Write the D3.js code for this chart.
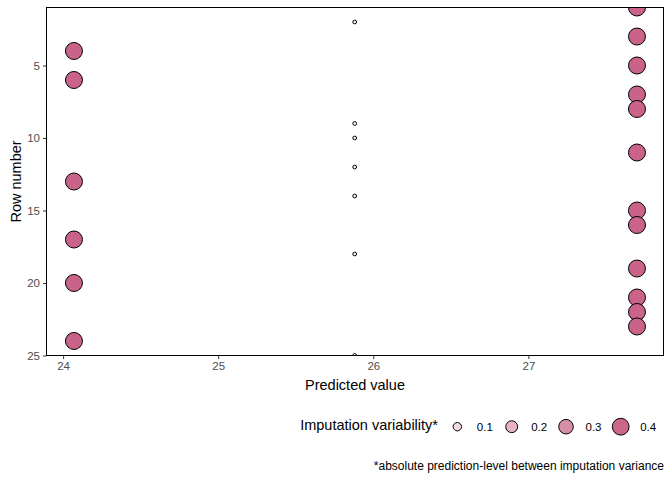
<!DOCTYPE html>
<html><head><meta charset="utf-8">
<script src="https://cdn.jsdelivr.net/npm/d3@7"></script>
<style>body{margin:0;background:#fff;} text{font-family:"Liberation Sans",Arial,sans-serif;}</style>
</head><body>
<script>
const rows = d3.range(1, 26);
const predicted = [27.70,25.88,27.70,24.07,27.70,24.07,27.70,27.70,25.88,25.88,27.70,25.88,24.07,25.88,27.70,27.70,24.07,25.88,27.70,24.07,27.70,27.70,27.70,24.07,25.88];
const variability = [0.41,0.02,0.41,0.41,0.41,0.41,0.41,0.41,0.02,0.02,0.41,0.02,0.41,0.02,0.41,0.41,0.41,0.02,0.41,0.41,0.41,0.41,0.41,0.41,0.02];
const xTicks = [24, 25, 26, 27];
const yTicks = [5, 10, 15, 20, 25];
const legendValues = [0.1, 0.2, 0.3, 0.4];

const W = 672, H = 480;
const P = {l: 46.5, t: 7.5, r: 663.5, b: 355.5};
const svg = d3.select("body").append("svg").attr("width", W).attr("height", H);

const x = d3.scaleLinear().domain([23.893, 27.871]).range([P.l, P.r]);
const y = d3.scaleLinear().domain([1, 25]).range([P.t, P.b]);
const rScale = d3.scaleSqrt().domain([0, 0.4]).range([0, 8.4]);
const col = d3.scaleLinear().domain([0, 0.42]).range(["#ffffff", "#c95f86"]).clamp(true);

svg.append("defs").append("clipPath").attr("id", "clip")
  .append("rect").attr("x", P.l).attr("y", P.t).attr("width", P.r - P.l).attr("height", P.b - P.t);

const data = rows.map((r, i) => ({row: r, pred: predicted[i], v: variability[i]}));
svg.append("g").attr("clip-path", "url(#clip)")
  .selectAll("circle").data(data).join("circle")
  .attr("cx", d => x(d.pred)).attr("cy", d => y(d.row))
  .attr("r", d => Math.max(rScale(d.v), 1.5))
  .attr("fill", d => col(d.v)).attr("stroke", "#000").attr("stroke-width", 1);

svg.append("rect").attr("x", P.l).attr("y", P.t).attr("width", P.r - P.l).attr("height", P.b - P.t)
  .attr("fill", "none").attr("stroke", "#000").attr("stroke-width", 1);

const xAxis = svg.append("g").attr("transform", `translate(0,${P.b})`)
  .call(d3.axisBottom(x).tickValues(xTicks).tickSize(3.5).tickPadding(3).tickFormat(d3.format("d")));
const yAxis = svg.append("g").attr("transform", `translate(${P.l},0)`)
  .call(d3.axisLeft(y).tickValues(yTicks).tickSize(3.5).tickPadding(3).tickFormat(d3.format("d")));
[xAxis, yAxis].forEach(a => {
  a.select(".domain").remove();
  a.selectAll(".tick line").attr("stroke", "#333");
  a.selectAll(".tick text").attr("fill", "#4d4d4d").style("font-size", "11.5px").style("font-family", "Liberation Sans, Arial, sans-serif");
});

svg.append("text").attr("x", (P.l + P.r) / 2).attr("y", 390).attr("text-anchor", "middle")
  .style("font-size", "14.5px").attr("fill", "#000").text("Predicted value");
svg.append("text").attr("transform", `translate(21,${(P.t + P.b) / 2}) rotate(-90)`).attr("text-anchor", "middle")
  .style("font-size", "14.5px").attr("fill", "#000").text("Row number");

// legend
const lg = svg.append("g");
lg.append("text").attr("x", 438).attr("y", 430).attr("text-anchor", "end")
  .style("font-size", "14.5px").attr("fill", "#000").text("Imputation variability*");
const keyX = [457.3, 511.7, 566, 620.7];
legendValues.forEach((v, i) => {
  lg.append("circle").attr("cx", keyX[i]).attr("cy", 426.7).attr("r", rScale(v))
    .attr("fill", col(v)).attr("stroke", "#000").attr("stroke-width", 1);
  lg.append("text").attr("x", keyX[i] + 19.5).attr("y", 431).style("font-size", "11.5px")
    .attr("fill", "#000").text(v.toFixed(1));
});
svg.append("text").attr("x", 664).attr("y", 470).attr("text-anchor", "end")
  .style("font-size", "12px").attr("fill", "#000").text("*absolute prediction-level between imputation variance");
</script>
</body></html>
